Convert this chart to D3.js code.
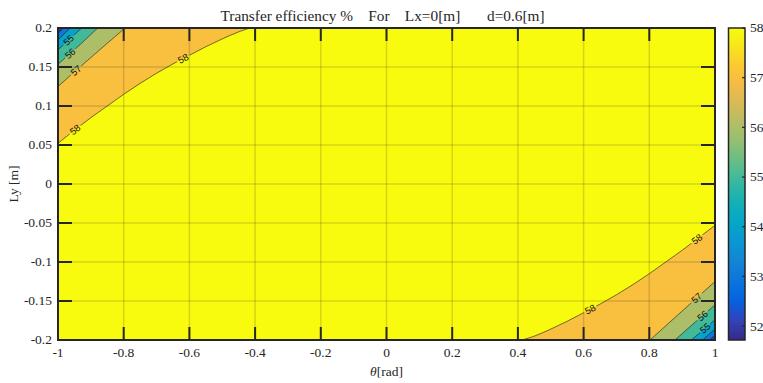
<!DOCTYPE html>
<html>
<head>
<meta charset="utf-8">
<script src="https://cdn.jsdelivr.net/npm/d3@7"></script>
<style>
    body { margin: 0; background: #fff; }
    text { font-family: "Liberation Serif", "Times New Roman", serif; fill: #262626; }
    .clabel { font-family: "Liberation Sans", Arial, sans-serif; font-size: 9.5px; fill: #111; }
</style>
</head>
<body>
<svg id="chart" width="763" height="383"></svg>
<script>
// axis ticks
const thetaTicks = [-1, -0.8, -0.6, -0.4, -0.2, 0, 0.2, 0.4, 0.6, 0.8, 1];
const lyTicks = [-0.2, -0.15, -0.1, -0.05, 0, 0.05, 0.1, 0.15, 0.2];
const colorbarTicks = [52, 53, 54, 55, 56, 57, 58];
const colorRange = [51.72, 58];

// contour lines, [theta, Ly] (upper left corner)
const upperLeftLines = [
    {level: 58, pts: [[-1, 0.052], [-0.95, 0.069], [-0.9, 0.085], [-0.85, 0.100], [-0.8, 0.115], [-0.75, 0.129],
        [-0.7, 0.142], [-0.65, 0.154], [-0.6, 0.165], [-0.55, 0.176], [-0.5, 0.186], [-0.45, 0.195], [-0.416, 0.2]]},
    {level: 57, pts: [[-1, 0.125], [-0.903, 0.161], [-0.796, 0.2]]},
    {level: 56, pts: [[-1, 0.1535], [-0.94, 0.176], [-0.879, 0.2]]},
    {level: 55, pts: [[-1, 0.172], [-0.928, 0.2]]},
    {level: 54, pts: [[-1, 0.1846], [-0.963, 0.2]]},
    {level: 53, pts: [[-1, 0.193], [-0.984, 0.2]]},
    {level: 52, pts: [[-1, 0.1975], [-0.994, 0.2]]}
];
// lower right corner
const lowerRightLines = [
    {level: 58, pts: [[1, -0.053], [0.95, -0.069], [0.9, -0.085], [0.85, -0.100], [0.8, -0.115], [0.75, -0.129],
        [0.7, -0.142], [0.65, -0.154], [0.6, -0.165], [0.55, -0.176], [0.5, -0.186], [0.45, -0.195], [0.412, -0.2]]},
    {level: 57, pts: [[1, -0.125], [0.905, -0.161], [0.802, -0.2]]},
    {level: 56, pts: [[1, -0.155], [0.94, -0.177], [0.878, -0.2]]},
    {level: 55, pts: [[1, -0.174], [0.928, -0.2]]},
    {level: 54, pts: [[1, -0.186], [0.962, -0.2]]},
    {level: 53, pts: [[1, -0.194], [0.983, -0.2]]},
    {level: 52, pts: [[1, -0.198], [0.994, -0.2]]}
];
// inline labels: level and theta where the label sits
const upperLeftLabels = [[58, -0.948], [58, -0.619], [57, -0.945], [56, -0.963], [55, -0.968]];
const lowerRightLabels = [[58, 0.945], [58, 0.62], [57, 0.944], [56, 0.962], [55, 0.97]];

// parula colormap stops
const parula = ['#352a87', '#3243ba', '#0363e1', '#0d75dc', '#1485d4', '#0998d1', '#06a7c6', '#15b1b4',
    '#38b99e', '#65be86', '#92bf73', '#b7bd64', '#d9ba56', '#f8bb44', '#fccd2e', '#f5eb18', '#f9fb0e'];

const plot = {left: 58, right: 715, top: 28, bottom: 340};
const cbar = {left: 728.5, right: 745};

const svg = d3.select('#chart');
const x = d3.scaleLinear().domain([-1, 1]).range([plot.left, plot.right]);
const y = d3.scaleLinear().domain([-0.2, 0.2]).range([plot.bottom, plot.top]);
const cy = d3.scaleLinear().domain(colorRange).range([plot.bottom, plot.top]);

const parulaT = parula.map((c, i) => i === parula.length - 1 ? 1 : i * 4 / 63);
const cmap = d3.scaleLinear().domain(parulaT).range(parula).interpolate(d3.interpolateRgb).clamp(true);
const colorOf = v => cmap((v - colorRange[0]) / (colorRange[1] - colorRange[0]));

const defs = svg.append('defs');
defs.append('clipPath').attr('id', 'plotClip')
    .append('rect')
    .attr('x', plot.left).attr('y', plot.top)
    .attr('width', plot.right - plot.left).attr('height', plot.bottom - plot.top);

const area = svg.append('g').attr('clip-path', 'url(#plotClip)');

// region above the highest level
area.append('rect')
    .attr('x', plot.left).attr('y', plot.top)
    .attr('width', plot.right - plot.left).attr('height', plot.bottom - plot.top)
    .attr('fill', colorOf(58));

const line = d3.line().x(d => x(d[0])).y(d => y(d[1])).curve(d3.curveCatmullRom);

function drawBands(lines, corner) {
    lines.forEach(function(l) {
        area.append('path')
            .attr('d', line(l.pts) + 'L' + x(corner[0]) + ',' + y(corner[1]) + 'Z')
            .attr('fill', colorOf(Math.max(l.level - 1, colorRange[0])))
            .attr('stroke', 'none');
    });
}
drawBands(upperLeftLines, [-1, 0.2]);
drawBands(lowerRightLines, [1, -0.2]);

// grid
const grid = area.append('g').attr('stroke', '#262626').attr('stroke-opacity', 0.17).attr('stroke-width', 1.5);
thetaTicks.forEach(t => grid.append('line').attr('x1', x(t)).attr('x2', x(t)).attr('y1', plot.top).attr('y2', plot.bottom));
lyTicks.forEach(t => grid.append('line').attr('y1', y(t)).attr('y2', y(t)).attr('x1', plot.left).attr('x2', plot.right));

// label placement along a contour line
function labelSpot(pts, theta) {
    for (let i = 0; i < pts.length - 1; i++) {
        const a = pts[i], b = pts[i + 1];
        const lo = Math.min(a[0], b[0]), hi = Math.max(a[0], b[0]);
        if (theta >= lo && theta <= hi) {
            const f = (theta - a[0]) / (b[0] - a[0]);
            const ly = a[1] + f * (b[1] - a[1]);
            let ang = Math.atan2(y(b[1]) - y(a[1]), x(b[0]) - x(a[0])) * 180 / Math.PI;
            if (ang > 90) ang -= 180;
            if (ang < -90) ang += 180;
            return {px: x(theta), py: y(ly), ang: ang};
        }
    }
    return null;
}

const spots = [];
[[upperLeftLines, upperLeftLabels], [lowerRightLines, lowerRightLabels]].forEach(function(pair) {
    pair[1].forEach(function(lab) {
        const l = pair[0].find(d => d.level === lab[0]);
        const s = labelSpot(l.pts, lab[1]);
        if (s) { s.text = String(lab[0]); spots.push(s); }
    });
});

// gaps in the contour lines under the labels
const mask = defs.append('mask').attr('id', 'labelGaps').attr('maskUnits', 'userSpaceOnUse')
    .attr('x', 0).attr('y', 0).attr('width', 763).attr('height', 383);
mask.append('rect').attr('x', 0).attr('y', 0).attr('width', 763).attr('height', 383).attr('fill', '#fff');
spots.forEach(function(s) {
    mask.append('rect')
        .attr('x', -7).attr('y', -4).attr('width', 14).attr('height', 8)
        .attr('fill', '#000')
        .attr('transform', 'translate(' + s.px + ',' + s.py + ') rotate(' + s.ang + ')');
});

const contourG = area.append('g').attr('mask', 'url(#labelGaps)')
    .attr('fill', 'none').attr('stroke', '#1a1a1a').attr('stroke-width', 0.6);
upperLeftLines.concat(lowerRightLines).forEach(function(l) {
    contourG.append('path').attr('d', line(l.pts));
});

area.selectAll('text.clabel').data(spots).enter().append('text')
    .attr('class', 'clabel')
    .attr('text-anchor', 'middle')
    .attr('dy', '0.35em')
    .attr('transform', d => 'translate(' + d.px + ',' + d.py + ') rotate(' + d.ang + ')')
    .text(d => d.text);

// box and ticks
const axisG = svg.append('g').attr('stroke', '#262626').attr('stroke-width', 2);
const tickLenX = 13, tickLenY = 14;
thetaTicks.forEach(function(t) {
    axisG.append('line').attr('x1', x(t)).attr('x2', x(t)).attr('y1', plot.bottom).attr('y2', plot.bottom - tickLenX);
    axisG.append('line').attr('x1', x(t)).attr('x2', x(t)).attr('y1', plot.top).attr('y2', plot.top + tickLenX);
});
lyTicks.forEach(function(t) {
    axisG.append('line').attr('y1', y(t)).attr('y2', y(t)).attr('x1', plot.left).attr('x2', plot.left + tickLenY);
    axisG.append('line').attr('y1', y(t)).attr('y2', y(t)).attr('x1', plot.right).attr('x2', plot.right - tickLenY);
});
axisG.append('rect')
    .attr('x', plot.left).attr('y', plot.top)
    .attr('width', plot.right - plot.left).attr('height', plot.bottom - plot.top)
    .attr('fill', 'none');

const fmt = d => String(+d.toFixed(2));
svg.selectAll('text.xt').data(thetaTicks).enter().append('text')
    .attr('x', d => x(d)).attr('y', 357)
    .attr('text-anchor', 'middle').attr('font-size', 13.5)
    .text(fmt);
svg.selectAll('text.yt').data(lyTicks).enter().append('text')
    .attr('x', 52).attr('y', d => y(d)).attr('dy', '0.33em')
    .attr('text-anchor', 'end').attr('font-size', 13.5)
    .text(fmt);

svg.append('text')
    .attr('x', (plot.left + plot.right) / 2).attr('y', 376)
    .attr('text-anchor', 'middle').attr('font-size', 13.5)
    .html('<tspan font-style="italic">θ</tspan>[rad]');
svg.append('text')
    .attr('transform', 'translate(18,' + (plot.top + plot.bottom) / 2 + ') rotate(-90)')
    .attr('text-anchor', 'middle').attr('font-size', 13.5)
    .text('Ly [m]');
svg.append('text')
    .attr('x', 382.5).attr('y', 21)
    .attr('text-anchor', 'middle').attr('font-size', 15.3)
    .style('white-space', 'pre')
    .text('Transfer efficiency %    For    Lx=0[m]       d=0.6[m]');

// colorbar
const grad = defs.append('linearGradient').attr('id', 'cbGrad')
    .attr('x1', 0).attr('y1', 1).attr('x2', 0).attr('y2', 0);
d3.range(0, 1.0001, 0.02).forEach(function(t) {
    grad.append('stop').attr('offset', t).attr('stop-color', cmap(t));
});
svg.append('rect')
    .attr('x', cbar.left).attr('y', plot.top)
    .attr('width', cbar.right - cbar.left).attr('height', plot.bottom - plot.top)
    .attr('fill', 'url(#cbGrad)')
    .attr('stroke', '#262626').attr('stroke-width', 1.5);
colorbarTicks.forEach(function(t) {
    svg.append('line')
        .attr('x1', cbar.right).attr('x2', cbar.right - 3)
        .attr('y1', cy(t)).attr('y2', cy(t))
        .attr('stroke', '#262626').attr('stroke-width', 1.2);
});
svg.selectAll('text.ct').data(colorbarTicks).enter().append('text')
    .attr('x', 750).attr('y', d => cy(d)).attr('dy', '0.33em')
    .attr('font-size', 13.5)
    .text(d => d);
</script>
</body>
</html>
